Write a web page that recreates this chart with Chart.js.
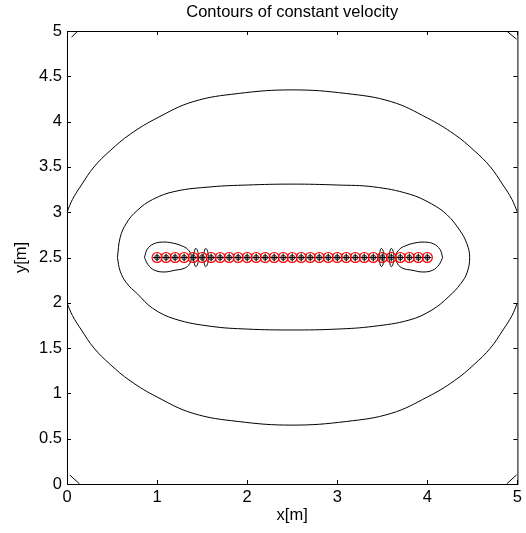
<!DOCTYPE html>
<html>
<head>
<meta charset="utf-8">
<script src="https://cdn.jsdelivr.net/npm/chart.js@4"></script>
<style>
  body { margin: 0; background: #fff; }
  #chart { display: block; }
</style>
</head>
<body>
<canvas id="chart" width="526" height="533"></canvas>
<script>
// axis ticks
const xTicks = [0, 1, 2, 3, 4, 5];
const yTicks = [0, 0.5, 1, 1.5, 2, 2.5, 3, 3.5, 4, 4.5, 5];

// source points along the line y = 2.5
const sourceX = [1.0, 1.1, 1.2, 1.3, 1.4, 1.5, 1.6, 1.7, 1.8, 1.9, 2.0, 2.1, 2.2, 2.3, 2.4, 2.5,
    2.6, 2.7, 2.8, 2.9, 3.0, 3.1, 3.2, 3.3, 3.4, 3.5, 3.6, 3.7, 3.8, 3.9, 4.0];
const sourceY = [2.5, 2.5, 2.5, 2.5, 2.5, 2.5, 2.5, 2.5, 2.5, 2.5, 2.5, 2.5, 2.5, 2.5, 2.5, 2.5,
    2.5, 2.5, 2.5, 2.5, 2.5, 2.5, 2.5, 2.5, 2.5, 2.5, 2.5, 2.5, 2.5, 2.5, 2.5];

// outer contour (top and bottom branches, cut by the box)
const outerTopX = [0, 0.06, 0.16, 0.30, 0.48, 0.70, 1.00, 1.40, 1.90, 2.50, 3.10, 3.60, 4.00, 4.30, 4.52, 4.70, 4.84, 4.94, 5.0];
const outerTopY = [3.00, 3.14, 3.30, 3.50, 3.68, 3.86, 4.04, 4.22, 4.31, 4.35, 4.31, 4.22, 4.04, 3.86, 3.68, 3.50, 3.30, 3.14, 3.00];
const outerBotX = [0, 0.06, 0.16, 0.30, 0.48, 0.70, 1.00, 1.40, 1.90, 2.50, 3.10, 3.60, 4.00, 4.30, 4.52, 4.70, 4.84, 4.94, 5.0];
const outerBotY = [2.00, 1.86, 1.70, 1.50, 1.32, 1.14, 0.96, 0.78, 0.69, 0.65, 0.69, 0.78, 0.96, 1.14, 1.32, 1.50, 1.70, 1.86, 2.00];

// middle contour (closed)
const midX = [0.56, 0.59, 0.66, 0.78, 0.95, 1.20, 1.60, 2.00, 2.50, 3.00, 3.40, 3.80, 4.05, 4.22, 4.36, 4.44, 4.47,
    4.44, 4.37, 4.24, 4.05, 3.80, 3.40, 3.00, 2.50, 2.00, 1.60, 1.20, 0.95, 0.78, 0.66, 0.59, 0.56];
const midY = [2.50, 2.72, 2.88, 3.02, 3.14, 3.23, 3.28, 3.30, 3.31, 3.30, 3.28, 3.20, 3.09, 2.97, 2.80, 2.65, 2.50,
    2.33, 2.21, 2.07, 1.92, 1.81, 1.74, 1.71, 1.70, 1.71, 1.74, 1.82, 1.94, 2.10, 2.22, 2.35, 2.50];

// end lobes (closed, tear-drop shaped)
const lobeLeftX = [0.86, 0.89, 0.96, 1.06, 1.17, 1.27, 1.34, 1.38, 1.36, 1.30, 1.20, 1.08, 0.97, 0.90, 0.86];
const lobeLeftY = [2.50, 2.59, 2.65, 2.67, 2.66, 2.63, 2.59, 2.52, 2.43, 2.38, 2.36, 2.34, 2.36, 2.42, 2.50];
const lobeRightX = [4.17, 4.14, 4.07, 3.97, 3.86, 3.76, 3.69, 3.65, 3.67, 3.73, 3.83, 3.95, 4.06, 4.13, 4.17];
const lobeRightY = [2.50, 2.59, 2.65, 2.67, 2.66, 2.63, 2.59, 2.52, 2.43, 2.38, 2.36, 2.34, 2.36, 2.42, 2.50];

// small loops next to the lobes
const loopAX = [1.40, 1.43, 1.46, 1.43, 1.40];
const loopBX = [1.51, 1.54, 1.57, 1.54, 1.51];
const loopCX = [3.46, 3.49, 3.52, 3.49, 3.46];
const loopDX = [3.57, 3.60, 3.63, 3.60, 3.57];
const loopY = [2.50, 2.60, 2.50, 2.40, 2.50];

// corner pieces
const cornerTLX = [0.05, 0.12], cornerTLY = [4.93, 5.0];
const cornerTRX = [4.88, 4.99], cornerTRY = [5.0, 4.91];
const cornerBLX = [0.03, 0.14], cornerBLY = [0.10, 0.0];
const cornerBRX = [4.88, 4.99], cornerBRY = [0.0, 0.10];

function pts(xs, ys) {
    return xs.map((x, i) => ({ x: x, y: ys[i] }));
}

function contour(xs, ys, tension) {
    return {
        data: pts(xs, ys),
        showLine: true,
        borderColor: "#000",
        borderWidth: 1,
        pointRadius: 0,
        tension: tension,
        order: 5
    };
}

const fontFamily = "'Liberation Sans', Arial, sans-serif";
Chart.defaults.font.family = fontFamily;
Chart.defaults.font.size = 16.5;
Chart.defaults.color = "#000";

// title centred over the plot box, box outline and inward ticks
const frame = {
    id: "frame",
    afterDraw(chart) {
        const ctx = chart.ctx;
        const a = chart.chartArea;
        const xs = chart.scales.x, ys = chart.scales.y;
        ctx.save();
        ctx.strokeStyle = "#000";
        ctx.lineWidth = 1;
        ctx.strokeRect(a.left + 0.5, a.top + 0.5, a.right - a.left, a.bottom - a.top);
        ctx.beginPath();
        xTicks.forEach(v => {
            const px = Math.round(xs.getPixelForValue(v)) + 0.5;
            ctx.moveTo(px, a.bottom); ctx.lineTo(px, a.bottom - 4);
            ctx.moveTo(px, a.top); ctx.lineTo(px, a.top + 4);
        });
        yTicks.forEach(v => {
            const py = Math.round(ys.getPixelForValue(v)) + 0.5;
            ctx.moveTo(a.left, py); ctx.lineTo(a.left + 4, py);
            ctx.moveTo(a.right, py); ctx.lineTo(a.right - 4, py);
        });
        ctx.stroke();
        ctx.fillStyle = "#000";
        ctx.font = "16.5px " + fontFamily;
        ctx.textAlign = "center";
        ctx.textBaseline = "middle";
        ctx.fillText("Contours of constant velocity", (a.left + a.right) / 2, 12);
        ctx.restore();
    }
};

new Chart(document.getElementById("chart"), {
    type: "scatter",
    data: {
        datasets: [
            contour(outerTopX, outerTopY, 0.4),
            contour(outerBotX, outerBotY, 0.4),
            contour(midX, midY, 0.4),
            contour(lobeLeftX, lobeLeftY, 0.4),
            contour(lobeRightX, lobeRightY, 0.4),
            contour(loopAX, loopY, 0.5),
            contour(loopBX, loopY, 0.5),
            contour(loopCX, loopY, 0.5),
            contour(loopDX, loopY, 0.5),
            contour(cornerTLX, cornerTLY, 0),
            contour(cornerTRX, cornerTRY, 0),
            contour(cornerBLX, cornerBLY, 0),
            contour(cornerBRX, cornerBRY, 0),
            {
                // small contours round each source
                data: pts(sourceX, sourceY),
                pointStyle: "circle",
                pointRadius: 2.5,
                borderColor: "#444",
                backgroundColor: "rgba(90,90,90,0.5)",
                borderWidth: 1,
                order: 4
            },
            {
                data: pts(sourceX, sourceY),
                pointStyle: "cross",
                pointRadius: 4,
                borderColor: "#000",
                borderWidth: 1,
                order: 3
            },
            {
                data: pts(sourceX, sourceY),
                pointStyle: "circle",
                pointRadius: 5,
                borderColor: "#ff0000",
                backgroundColor: "rgba(0,0,0,0)",
                borderWidth: 1.2,
                order: 2
            }
        ]
    },
    options: {
        responsive: false,
        animation: false,
        layout: { padding: { top: 31, right: 8, left: 0, bottom: 0 } },
        plugins: {
            legend: { display: false },
            tooltip: { enabled: false }
        },
        scales: {
            x: {
                type: "linear",
                min: 0,
                max: 5,
                afterBuildTicks: scale => { scale.ticks = xTicks.map(v => ({ value: v })); },
                afterFit: scale => { scale.height = 49; },
                grid: { display: false, drawTicks: false },
                border: { display: false },
                ticks: { padding: 4, callback: v => String(v) },
                title: { display: true, text: "x[m]", padding: { top: 0, bottom: 8 } }
            },
            y: {
                type: "linear",
                min: 0,
                max: 5,
                afterBuildTicks: scale => { scale.ticks = yTicks.map(v => ({ value: v })); },
                afterFit: scale => { scale.width = 67; },
                grid: { display: false, drawTicks: false },
                border: { display: false },
                ticks: { padding: 5, callback: v => String(v) },
                title: { display: true, text: "y[m]", padding: { top: 12, bottom: 0 } }
            }
        }
    },
    plugins: [frame]
});
</script>
</body>
</html>
